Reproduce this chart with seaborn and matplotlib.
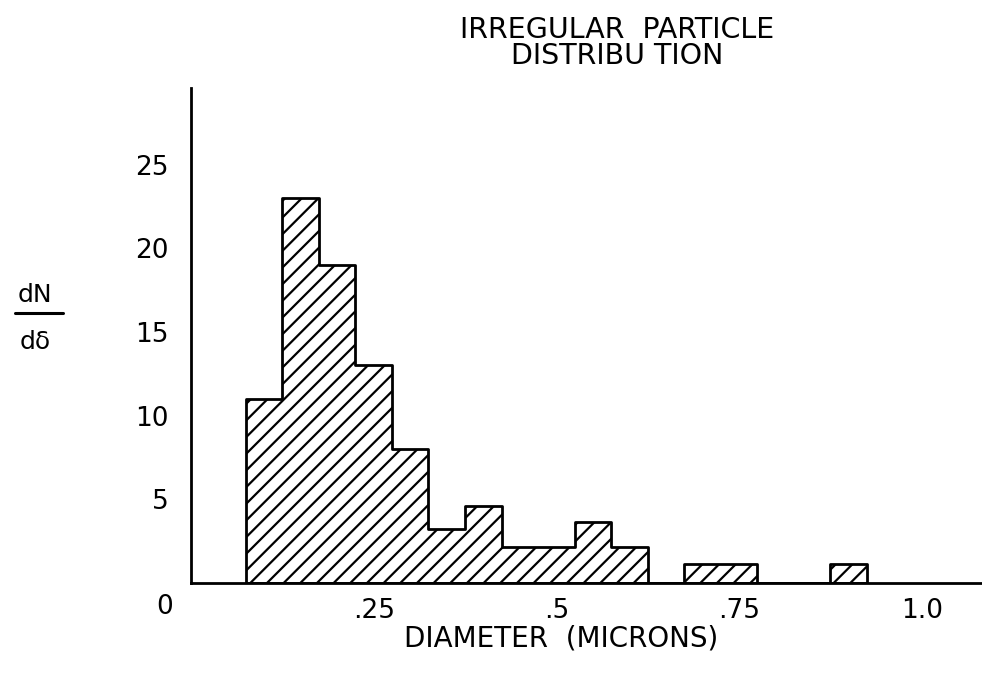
import numpy as np
import pandas as pd
import matplotlib
matplotlib.use("Agg")
import matplotlib.pyplot as plt
from matplotlib.lines import Line2D
import seaborn as sns

# dN/d(delta) per 0.05 micron bin
bin_centers = [0.10, 0.15, 0.20, 0.25, 0.30, 0.35, 0.40, 0.45, 0.50,
               0.55, 0.60, 0.65, 0.70, 0.75, 0.80, 0.85, 0.90]
dn_dd = [11, 23, 19, 13, 8, 3.2, 4.6, 2.1, 2.1,
         3.6, 2.1, 0, 1.1, 1.1, 0, 0, 1.1]
bin_width = 0.05

x_ticks = [0.25, 0.5, 0.75, 1.0]
x_labels = ['.25', '.5', '.75', '1.0']
y_ticks = [5, 10, 15, 20, 25]
y_labels = ['5', '10', '15', '20', '25']

sns.set_style("white")
plt.rcParams['font.family'] = ['DejaVu Sans']
plt.rcParams['text.color'] = 'black'
plt.rcParams['xtick.color'] = 'black'
plt.rcParams['ytick.color'] = 'black'
plt.rcParams['hatch.linewidth'] = 1.6
plt.rcParams['hatch.color'] = 'black'

W, H = 982, 674
fig = plt.figure(figsize=(W / 100, H / 100), dpi=100)
ax = fig.add_axes([191 / W, 1 - 582.5 / H, (W - 191) / W, (582.5 - 88) / H])

df = pd.DataFrame({'diameter': bin_centers, 'dn_dd': dn_dd})
edges = [c - bin_width / 2 for c in bin_centers] + [bin_centers[-1] + bin_width / 2]
sns.histplot(data=df, x='diameter', weights='dn_dd', bins=edges, element='step', fill=True,
             facecolor='white', edgecolor='black', linewidth=2, hatch='//', ax=ax)

ax.set_xlim(0, (W - 191) / 730.7)
ax.set_ylim(0, (582.5 - 88) / 16.7)

for side in ['top', 'right']:
    ax.spines[side].set_visible(False)
for side in ['left', 'bottom']:
    ax.spines[side].set_linewidth(2)
    ax.spines[side].set_color('black')

ax.set_xticks(x_ticks)
ax.set_xticklabels(x_labels)
ax.set_yticks(y_ticks)
ax.set_yticklabels(y_labels)
ax.tick_params(axis='x', direction='in', length=7, width=1.5, pad=11, labelsize=19)
ax.tick_params(axis='y', direction='in', length=10, width=1.5, pad=16, labelsize=19)
ax.set_xlabel('')
ax.set_ylabel('')

# origin label
fig.text(165 / W, 1 - 607 / H, '0', ha='center', va='center', fontsize=19)

# title
fig.text(617 / W, 1 - 43 / H, 'IRREGULAR  PARTICLE\nDISTRIBU TION', ha='center', va='center',
         multialignment='center', linespacing=0.95, fontsize=20.5)

# x label
fig.text(561 / W, 1 - 638 / H, 'DIAMETER  (MICRONS)', ha='center', va='center', fontsize=20)

# y label as a stacked fraction
fig.text(35 / W, 1 - 295 / H, 'dN', ha='center', va='center', fontsize=18)
fig.text(35 / W, 1 - 342 / H, 'd\u03b4', ha='center', va='center', fontsize=18)
fig.add_artist(Line2D([15 / W, 63 / W], [1 - 313 / H, 1 - 313 / H], color='black',
                      linewidth=2.2, transform=fig.transFigure))

fig.savefig('out.png', dpi=100)
